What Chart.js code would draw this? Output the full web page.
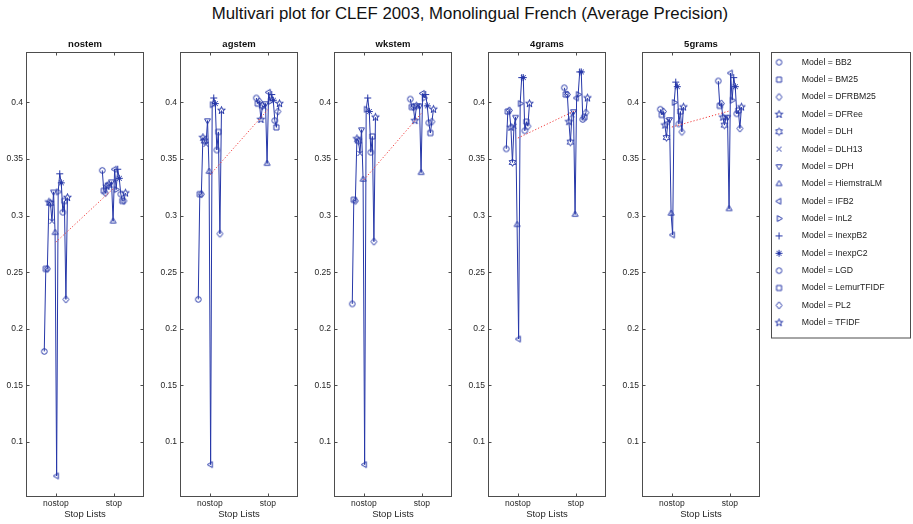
<!DOCTYPE html>
<html lang="en">
<head>
<meta charset="UTF-8">
<title>Multivari plot for CLEF 2003</title>
<script src="https://cdn.jsdelivr.net/npm/chart.js@4.4.1/dist/chart.umd.min.js"></script>
<style>
  body { margin: 0; background: #fff; width: 913px; height: 524px; position: relative; overflow: hidden;
         font-family: "Liberation Sans", Arial, Helvetica, sans-serif; }
  #title { position: absolute; left: 0; top: 4px; width: 940px; text-align: center; font-size: 16.8px;
           line-height: 19px; color: #111; }
  canvas { position: absolute; }
</style>
</head>
<body>
<div id="title">Multivari plot for CLEF 2003, Monolingual French (Average Precision)</div>
<script>
// data
var models = ['BB2', 'BM25', 'DFRBM25', 'DFRee', 'DLH', 'DLH13', 'DPH', 'HiemstraLM',
              'IFB2', 'InL2', 'InexpB2', 'InexpC2', 'LGD', 'LemurTFIDF', 'PL2', 'TFIDF'];
var stemmers = ['nostem', 'agstem', 'wkstem', '4grams', '5grams'];
var stopLists = ['nostop', 'stop'];
var yTicks = [0.1, 0.15, 0.2, 0.25, 0.3, 0.35, 0.4];
var yTickLabels = ['0.1', '0.15', '0.2', '0.25', '0.3', '0.35', '0.4'];

var nostemNostop = [0.180, 0.253, 0.253, 0.312, 0.311, 0.295, 0.321, 0.285, 0.070, 0.321, 0.337, 0.329, 0.303, 0.313, 0.226, 0.316];
var nostemStop   = [0.340, 0.322, 0.320, 0.326, 0.327, 0.327, 0.330, 0.295, 0.341, 0.323, 0.341, 0.333, 0.319, 0.313, 0.313, 0.320];
var agstemNostop = [0.226, 0.319, 0.319, 0.369, 0.366, 0.363, 0.384, 0.339, 0.080, 0.398, 0.404, 0.399, 0.358, 0.374, 0.284, 0.393];
var agstemStop   = [0.404, 0.399, 0.401, 0.385, 0.397, 0.396, 0.399, 0.346, 0.409, 0.401, 0.407, 0.402, 0.384, 0.378, 0.392, 0.399];
var wkstemNostop = [0.222, 0.314, 0.313, 0.368, 0.366, 0.355, 0.376, 0.332, 0.080, 0.394, 0.404, 0.392, 0.356, 0.370, 0.277, 0.387];
var wkstemStop   = [0.403, 0.396, 0.396, 0.384, 0.397, 0.397, 0.397, 0.338, 0.408, 0.404, 0.407, 0.397, 0.382, 0.373, 0.383, 0.394];
var grams4Nostop = [0.359, 0.392, 0.393, 0.378, 0.347, 0.379, 0.387, 0.292, 0.191, 0.399, 0.422, 0.422, 0.375, 0.383, 0.379, 0.399];
var grams4Stop   = [0.413, 0.407, 0.407, 0.383, 0.365, 0.389, 0.392, 0.301, 0.404, 0.407, 0.427, 0.427, 0.385, 0.387, 0.391, 0.404];
var grams5Nostop = [0.394, 0.389, 0.392, 0.380, 0.369, 0.384, 0.385, 0.302, 0.283, 0.400, 0.418, 0.414, 0.381, 0.392, 0.374, 0.396];
var grams5Stop   = [0.419, 0.397, 0.399, 0.387, 0.380, 0.387, 0.387, 0.306, 0.426, 0.402, 0.422, 0.414, 0.390, 0.393, 0.377, 0.396];

var apNostop = [nostemNostop, agstemNostop, wkstemNostop, grams4Nostop, grams5Nostop];
var apStop = [nostemStop, agstemStop, wkstemStop, grams4Stop, grams5Stop];

// look
var BLUE = '#2637a8';
var RED = '#f03a3a';
var FONT = '"Liberation Sans", Arial, Helvetica, sans-serif';
var markerCodes = ['o', 's', 'd', 'p', 'h', 'x', 'v', '^', '<', '>', '+', '*', 'o', 's', 'd', 'p'];
var panelLeft = [26, 180, 334, 488, 642];
var PANEL_W = 118, YAXIS_W = 26;

function starPath(g, n, r1, r2) {
    for (var k = 0; k < 2 * n; k++) {
        var a = -Math.PI / 2 + k * Math.PI / n;
        var r = k % 2 ? r2 : r1;
        if (k == 0) g.moveTo(r * Math.cos(a), r * Math.sin(a));
        else g.lineTo(r * Math.cos(a), r * Math.sin(a));
    }
    g.closePath();
}

function triPath(g, deg) {
    for (var k = 0; k < 3; k++) {
        var a = (deg + k * 120) * Math.PI / 180;
        if (k == 0) g.moveTo(3.4 * Math.cos(a), 3.4 * Math.sin(a));
        else g.lineTo(3.4 * Math.cos(a), 3.4 * Math.sin(a));
    }
    g.closePath();
}

// matlab style open markers, drawn once into little canvases
function makeMarker(code) {
    var c = document.createElement('canvas');
    c.width = 11; c.height = 11;
    var g = c.getContext('2d');
    g.strokeStyle = BLUE;
    g.lineWidth = 1;
    g.translate(5.5, 5.5);
    g.beginPath();
    if (code == 'o') g.arc(0, 0, 2.8, 0, 2 * Math.PI);
    else if (code == 's') g.rect(-2.5, -2.5, 5, 5);
    else if (code == 'd') { g.moveTo(0, -3.6); g.lineTo(3, 0); g.lineTo(0, 3.6); g.lineTo(-3, 0); g.closePath(); }
    else if (code == 'p') starPath(g, 5, 4, 1.6);
    else if (code == 'h') starPath(g, 6, 3.8, 2.1);
    else if (code == 'x') { g.moveTo(-2.5, -2.5); g.lineTo(2.5, 2.5); g.moveTo(2.5, -2.5); g.lineTo(-2.5, 2.5); }
    else if (code == 'v') triPath(g, 90);
    else if (code == '^') triPath(g, -90);
    else if (code == '<') triPath(g, 180);
    else if (code == '>') triPath(g, 0);
    else if (code == '+') { g.moveTo(-3.5, 0); g.lineTo(3.5, 0); g.moveTo(0, -3.5); g.lineTo(0, 3.5); }
    else if (code == '*') {
        g.moveTo(-3.5, 0); g.lineTo(3.5, 0); g.moveTo(0, -3.5); g.lineTo(0, 3.5);
        g.moveTo(-2.5, -2.5); g.lineTo(2.5, 2.5); g.moveTo(2.5, -2.5); g.lineTo(-2.5, 2.5);
    }
    g.stroke();
    return c;
}
var markerImgs = markerCodes.map(makeMarker);

// models are spread a little around each stop list level
function spread(i) {
    return -0.2 + 0.4 * i / (models.length - 1);
}

// box, inward ticks and the panel title
var framePlugin = {
    id: 'panelFrame',
    afterDraw: function(chart, args, opts) {
        var ctx = chart.ctx, a = chart.chartArea;
        var x = chart.scales.x, y = chart.scales.y;
        var l = Math.round(a.left) + 0.5, r = Math.round(a.right) - 0.5;
        var t = Math.round(a.top) + 0.5, b = Math.round(a.bottom) - 0.5;
        ctx.save();
        ctx.strokeStyle = '#4d4d4d';
        ctx.lineWidth = 1;
        ctx.strokeRect(l, t, r - l, b - t);
        ctx.beginPath();
        y.ticks.forEach(function(tk) {
            var py = Math.round(y.getPixelForValue(tk.value)) + 0.5;
            ctx.moveTo(l, py); ctx.lineTo(l + 3, py);
            ctx.moveTo(r, py); ctx.lineTo(r - 3, py);
        });
        x.ticks.forEach(function(tk) {
            var px = Math.round(x.getPixelForValue(tk.value)) + 0.5;
            ctx.moveTo(px, t); ctx.lineTo(px, t + 3);
            ctx.moveTo(px, b); ctx.lineTo(px, b - 3);
        });
        ctx.stroke();
        ctx.fillStyle = '#111';
        ctx.font = 'bold 9.5px ' + FONT;
        ctx.textAlign = 'center';
        ctx.textBaseline = 'middle';
        ctx.fillText(opts.title, (a.left + a.right) / 2, a.top - 8);
        ctx.restore();
    }
};

stemmers.forEach(function(stem, p) {
    var cv = document.createElement('canvas');
    cv.width = YAXIS_W + PANEL_W + 6;
    cv.height = 494;
    cv.style.left = (panelLeft[p] - YAXIS_W) + 'px';
    cv.style.top = '30px';
    document.body.appendChild(cv);

    var levels = [apNostop[p], apStop[p]];
    var groupSets = levels.map(function(vals, L) {
        return {
            label: stopLists[L],
            data: vals.map(function(v, i) { return {x: L + 1 + spread(i), y: v}; }),
            borderColor: BLUE,
            borderWidth: 1,
            pointStyle: markerImgs,
            pointRadius: 3,
            tension: 0
        };
    });
    var means = levels.map(function(vals) {
        return vals.reduce(function(s, v) { return s + v; }, 0) / vals.length;
    });
    var meanSet = {
        label: 'mean',
        data: means.map(function(m, L) { return {x: L + 1, y: m}; }),
        borderColor: RED,
        borderWidth: 1,
        borderDash: [1.2, 2],
        pointRadius: 0
    };

    new Chart(cv, {
        type: 'line',
        data: { datasets: [meanSet].concat(groupSets) },
        options: {
            responsive: false,
            animation: false,
            events: [],
            layout: { padding: { top: 22, right: 6, left: 0, bottom: 0 } },
            plugins: {
                legend: { display: false },
                tooltip: { enabled: false },
                panelFrame: { title: stem }
            },
            scales: {
                x: {
                    type: 'linear', bounds: 'data', min: 0.485, max: 2.52,
                    grid: { display: false, drawTicks: false },
                    border: { display: false },
                    afterBuildTicks: function(s) { s.ticks = stopLists.map(function(n, i) { return {value: i + 1}; }); },
                    afterFit: function(s) { s.height = 27; },
                    ticks: {
                        callback: function(v) { return stopLists[v - 1]; },
                        padding: 2, maxRotation: 0, autoSkip: false,
                        color: '#262626', font: { size: 8.5, family: FONT }
                    },
                    title: {
                        display: true, text: 'Stop Lists', color: '#262626',
                        font: { size: 9.5, family: FONT }, padding: { top: 0, bottom: 4 }
                    }
                },
                y: {
                    bounds: 'data', min: 0.0514, max: 0.4446,
                    grid: { display: false, drawTicks: false },
                    border: { display: false },
                    afterBuildTicks: function(s) { s.ticks = yTicks.map(function(v) { return {value: v}; }); },
                    afterFit: function(s) { s.width = YAXIS_W; },
                    ticks: {
                        callback: function(v, i) { return yTickLabels[i]; },
                        padding: 3, autoSkip: false,
                        color: '#262626', font: { size: 8.5, family: FONT }
                    }
                }
            }
        },
        plugins: [framePlugin]
    });
});

// legend lives in its own chart; canvas is wide so the legend box is not clipped
var legendFrame = {
    id: 'legendFrame',
    afterDraw: function(chart) {
        var ctx = chart.ctx;
        ctx.save();
        ctx.strokeStyle = '#4d4d4d';
        ctx.lineWidth = 1;
        ctx.strokeRect(19.5, 12.5, 139, 285.5);
        ctx.restore();
    }
};

var lg = document.createElement('canvas');
lg.width = 340;
lg.height = 310;
lg.style.left = '752px';
lg.style.top = '40px';
document.body.appendChild(lg);

new Chart(lg, {
    type: 'line',
    data: {
        datasets: models.map(function(m, i) {
            return { label: 'Model = ' + m, data: [], pointStyle: markerImgs[i], borderColor: BLUE };
        })
    },
    options: {
        responsive: false,
        animation: false,
        events: [],
        layout: { padding: { top: 9.3 } },
        scales: { x: { display: false }, y: { display: false } },
        plugins: {
            tooltip: { enabled: false },
            legend: {
                position: 'left',
                align: 'start',
                labels: {
                    usePointStyle: true,
                    pointStyleWidth: 36.7,
                    padding: 8.66,
                    textAlign: 'left',
                    color: '#222',
                    font: { size: 8.7, family: FONT }
                }
            }
        }
    },
    plugins: [legendFrame]
});
</script>
</body>
</html>
